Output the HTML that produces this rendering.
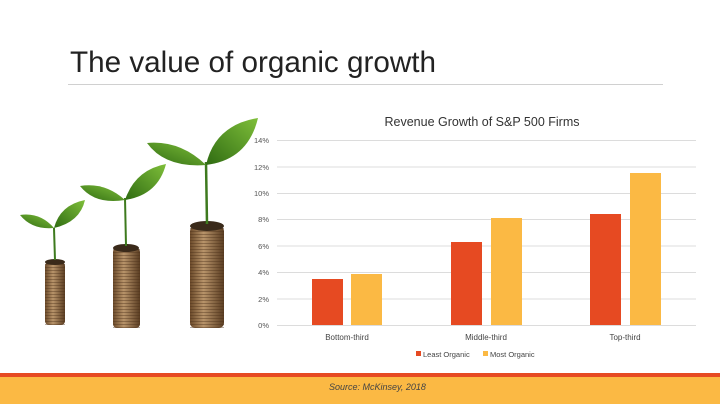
<!DOCTYPE html>
<html><head><meta charset="utf-8"><style>
body{margin:0;width:720px;height:404px;background:#fff;overflow:hidden;position:relative;font-family:"Liberation Sans",sans-serif}
</style></head><body>
<svg width="720" height="404" style="position:absolute;left:0;top:0" font-family="Liberation Sans, sans-serif">
<defs>
<linearGradient id="coin" x1="0" x2="1"><stop offset="0" stop-color="#6b4a2a"/><stop offset="0.4" stop-color="#b8946a"/><stop offset="1" stop-color="#5a3d22"/></linearGradient>
<linearGradient id="leaf" x1="0" x2="1" y1="1" y2="0"><stop offset="0" stop-color="#2f6b12"/><stop offset="1" stop-color="#7fbf3a"/></linearGradient>
<pattern id="rings" width="10" height="3" patternUnits="userSpaceOnUse"><rect width="10" height="1" fill="#4a3018" opacity="0.4"/></pattern>
</defs>
<text x="70" y="72" font-size="30" fill="#222" textLength="366" lengthAdjust="spacingAndGlyphs">The value of organic growth</text>
<rect x="68" y="84" width="595" height="1" fill="#d0d0d0"/>
<!-- plants -->
<g>
<rect x="45" y="262" width="20" height="63" rx="4" fill="url(#coin)"/><rect x="45" y="262" width="20" height="63" fill="url(#rings)"/>
<ellipse cx="55" cy="262" rx="10" ry="3" fill="#3a2a1a"/>
<rect x="113" y="248" width="27" height="80" rx="4" fill="url(#coin)"/><rect x="113" y="248" width="27" height="80" fill="url(#rings)"/>
<ellipse cx="126" cy="248" rx="13" ry="4" fill="#3a2a1a"/>
<rect x="190" y="226" width="34" height="102" rx="5" fill="url(#coin)"/><rect x="190" y="226" width="34" height="102" fill="url(#rings)"/>
<ellipse cx="207" cy="226" rx="17" ry="5" fill="#3a2a1a"/>
<path d="M55 260 L54 228" stroke="#3e7a1e" stroke-width="2"/>
<path d="M54 228 Q40 212 20 215 Q32 230 54 228Z" fill="url(#leaf)"/>
<path d="M54 228 Q60 205 85 200 Q80 222 54 228Z" fill="url(#leaf)"/>
<path d="M126 246 L125 198" stroke="#3e7a1e" stroke-width="2"/>
<path d="M125 200 Q105 182 80 186 Q95 205 125 200Z" fill="url(#leaf)"/>
<path d="M125 200 Q135 170 166 164 Q158 195 125 200Z" fill="url(#leaf)"/>
<path d="M207 224 L206 162" stroke="#3e7a1e" stroke-width="2.5"/>
<path d="M206 165 Q180 140 147 143 Q165 168 206 165Z" fill="url(#leaf)"/>
<path d="M206 165 Q215 125 258 118 Q248 160 206 165Z" fill="url(#leaf)"/>
</g>
<!-- chart -->
<text x="482" y="126" font-size="12.5" fill="#333" text-anchor="middle">Revenue Growth of S&amp;P 500 Firms</text>
<g stroke="#dcdcdc" stroke-width="1">
<line x1="277" x2="696" y1="140.5" y2="140.5"/><line x1="277" x2="696" y1="167" y2="167"/>
<line x1="277" x2="696" y1="193.5" y2="193.5"/><line x1="277" x2="696" y1="219.5" y2="219.5"/>
<line x1="277" x2="696" y1="246" y2="246"/><line x1="277" x2="696" y1="272.5" y2="272.5"/>
<line x1="277" x2="696" y1="299" y2="299"/><line x1="277" x2="696" y1="325.5" y2="325.5"/>
</g>
<g font-size="7.5" fill="#555" text-anchor="end">
<text x="269" y="143">14%</text><text x="269" y="170">12%</text><text x="269" y="196">10%</text>
<text x="269" y="222">8%</text><text x="269" y="249">6%</text><text x="269" y="275">4%</text>
<text x="269" y="302">2%</text><text x="269" y="328">0%</text>
</g>
<g fill="#e64a22">
<rect x="312" y="279" width="31" height="46"/><rect x="451" y="242" width="31" height="83"/><rect x="590" y="214" width="31" height="111"/>
</g>
<g fill="#fbb944">
<rect x="351" y="274" width="31" height="51"/><rect x="491" y="218" width="31" height="107"/><rect x="630" y="173" width="31" height="152"/>
</g>
<g font-size="8" fill="#444" text-anchor="middle">
<text x="347" y="340">Bottom-third</text><text x="486" y="340">Middle-third</text><text x="625" y="340">Top-third</text>
</g>
<rect x="416" y="351" width="5" height="5" fill="#e64a22"/>
<text x="423" y="357" font-size="7.5" fill="#444">Least Organic</text>
<rect x="483" y="351" width="5" height="5" fill="#fbb944"/>
<text x="490" y="357" font-size="7.5" fill="#444">Most Organic</text>
<rect x="0" y="373" width="720" height="4" fill="#e64a22"/>
<rect x="0" y="377" width="720" height="27" fill="#fbb944"/>
<text x="329" y="390" font-size="9" font-style="italic" fill="#444">Source:  McKinsey, 2018</text>
</svg>
</body></html>
